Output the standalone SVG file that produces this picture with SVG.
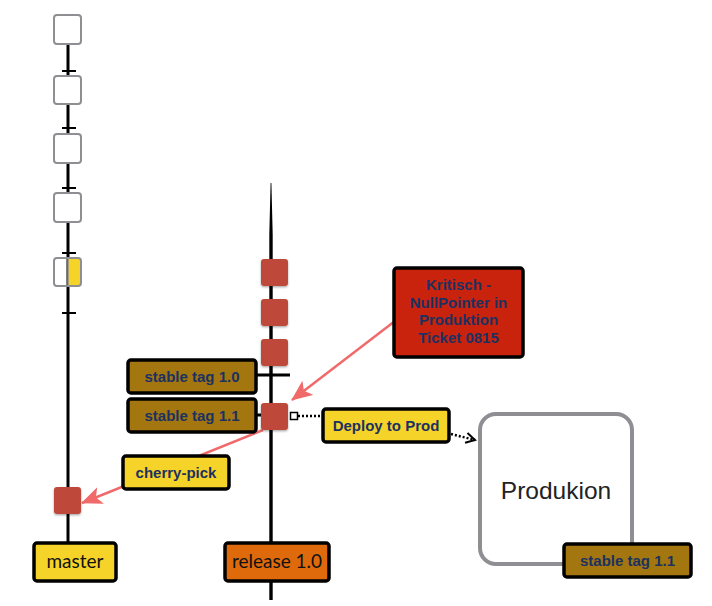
<svg xmlns="http://www.w3.org/2000/svg" width="712" height="606" viewBox="0 0 712 606">
<style>
.lbl{stroke:#000;stroke-width:3.5;stroke-linejoin:round}
.bt{font-family:"Liberation Sans",Arial,sans-serif;font-weight:bold;font-size:15px;fill:#1C3160;text-anchor:middle}
.gt{font-family:Lato,"Liberation Sans",sans-serif;font-size:19px;fill:#111;text-anchor:middle}
.wc{fill:#fff;stroke:#8E8E93;stroke-width:2}
.rc{fill:#BE4A3B}
.branch{stroke:#000;stroke-width:3;fill:none}
.tick{stroke:#000;stroke-width:2}
.red{stroke:#F06A6A;stroke-width:2.5;fill:none}
.dot{stroke:#000;stroke-width:2.5;stroke-dasharray:2 2;fill:none}
</style>
<defs>
<filter id="sh" x="-20%" y="-20%" width="140%" height="150%"><feDropShadow dx="0" dy="1.2" stdDeviation="1" flood-opacity="0.35"/></filter>
<marker id="redhead" markerUnits="userSpaceOnUse" markerWidth="22" markerHeight="18" refX="20" refY="9" orient="auto"><path d="M0,0 L21,9 L0,18 L5,9 z" fill="#F06A6A"/></marker>
<marker id="openhead" markerUnits="userSpaceOnUse" markerWidth="12" markerHeight="12" refX="10" refY="6" orient="auto"><path d="M1,1 L10,6 L1,11" fill="none" stroke="#000" stroke-width="2"/></marker>
</defs>
<rect width="712" height="606" fill="#fff"/>
<g id="connectors">
<line class="branch" x1="68" y1="44" x2="68" y2="542" stroke-width="3.6"/>
<line class="tick" x1="62" y1="71" x2="76" y2="71"/>
<line class="tick" x1="62" y1="128" x2="76" y2="128"/>
<line class="tick" x1="62" y1="188" x2="76" y2="188"/>
<line class="tick" x1="62" y1="253" x2="76" y2="253"/>
<line class="tick" x1="62" y1="313" x2="76" y2="313"/>
<path d="M270.6,183 L271.4,183 L272.7,235 L272.7,600 L269.3,600 L269.3,235 z" fill="#000"/>
<line class="branch" x1="256" y1="375" x2="290" y2="375"/>
<line class="branch" x1="256" y1="415" x2="263" y2="415"/>
<line class="dot" x1="298" y1="416" x2="322" y2="416"/>
<line class="dot" x1="451" y1="434" x2="475" y2="440" marker-end="url(#openhead)"/>
<line class="red" x1="395" y1="321" x2="292" y2="400" marker-end="url(#redhead)"/>
<line class="red" x1="263" y1="430" x2="82" y2="503" marker-end="url(#redhead)"/>
</g>
<g id="commit-m1"><rect class="wc" x="54" y="15" width="27" height="29" rx="3"/></g>
<g id="commit-m2"><rect class="wc" x="54" y="76" width="27" height="28" rx="3"/></g>
<g id="commit-m3"><rect class="wc" x="54" y="134" width="27" height="29" rx="3"/></g>
<g id="commit-m4"><rect class="wc" x="54" y="193" width="27" height="29" rx="3"/></g>
<g id="commit-m5"><rect x="68" y="258" width="13" height="28" fill="#F5D327"/><rect x="54" y="258" width="27" height="28" rx="3" fill="none" stroke="#8E8E93" stroke-width="2"/><line x1="68" y1="258" x2="68" y2="286" stroke="#8E8E93" stroke-width="1.5"/></g>
<g id="commit-m6"><rect class="rc" x="54" y="487" width="27" height="27" rx="3" filter="url(#sh)"/></g>
<g id="commit-r1"><rect class="rc" x="261" y="259" width="27" height="27" rx="3" filter="url(#sh)"/></g>
<g id="commit-r2"><rect class="rc" x="261" y="299" width="27" height="27" rx="3" filter="url(#sh)"/></g>
<g id="commit-r3"><rect class="rc" x="261" y="339" width="27" height="27" rx="3" filter="url(#sh)"/></g>
<g id="commit-r4"><rect class="rc" x="261" y="403" width="27" height="27" rx="3" filter="url(#sh)"/><rect x="290.5" y="412.5" width="7" height="7" fill="#fff" stroke="#000" stroke-width="1.5"/></g>
<g id="tag-10"><rect class="lbl" x="128" y="360" width="128" height="33" rx="3" fill="#A3760F"/><text class="bt" x="192" y="382">stable tag 1.0</text></g>
<g id="tag-11"><rect class="lbl" x="128" y="399" width="128" height="33" rx="3" fill="#A3760F"/><text class="bt" x="192" y="421">stable tag 1.1</text></g>
<g id="kritisch"><rect class="lbl" x="394" y="268" width="129" height="89" rx="3" fill="#C9230D"/><text class="bt" x="458.5" y="290">Kritisch -</text><text class="bt" x="458.5" y="307.5">NullPointer in</text><text class="bt" x="458.5" y="325">Produktion</text><text class="bt" x="458.5" y="342.5">Ticket 0815</text></g>
<g id="deploy"><rect class="lbl" x="323" y="409" width="126" height="33" rx="3" fill="#F6D328"/><text class="bt" x="386" y="431">Deploy to Prod</text></g>
<g id="cherry"><rect class="lbl" x="123" y="456" width="106" height="33" rx="3" fill="#F6D328"/><text class="bt" x="176" y="478">cherry-pick</text></g>
<g id="master"><rect class="lbl" x="34" y="543" width="82" height="38" rx="3" fill="#F6D328"/><text class="gt" x="75" y="568">master</text></g>
<g id="release"><rect class="lbl" x="225" y="543" width="104" height="38" rx="3" fill="#DF6A0C"/><text class="gt" x="277" y="568">release 1.0</text></g>
<g id="produktion"><rect x="480" y="414" width="152" height="150" rx="16" fill="#fff" stroke="#8E8E93" stroke-width="4"/><text x="556" y="499" font-family="'Liberation Sans',Arial,sans-serif" font-size="24.5" fill="#222" text-anchor="middle">Produkion</text></g>
<g id="tag-11-prod"><rect class="lbl" x="564" y="544" width="127" height="33" rx="3" fill="#A3760F"/><text class="bt" x="627.5" y="566">stable tag 1.1</text></g>
</svg>
